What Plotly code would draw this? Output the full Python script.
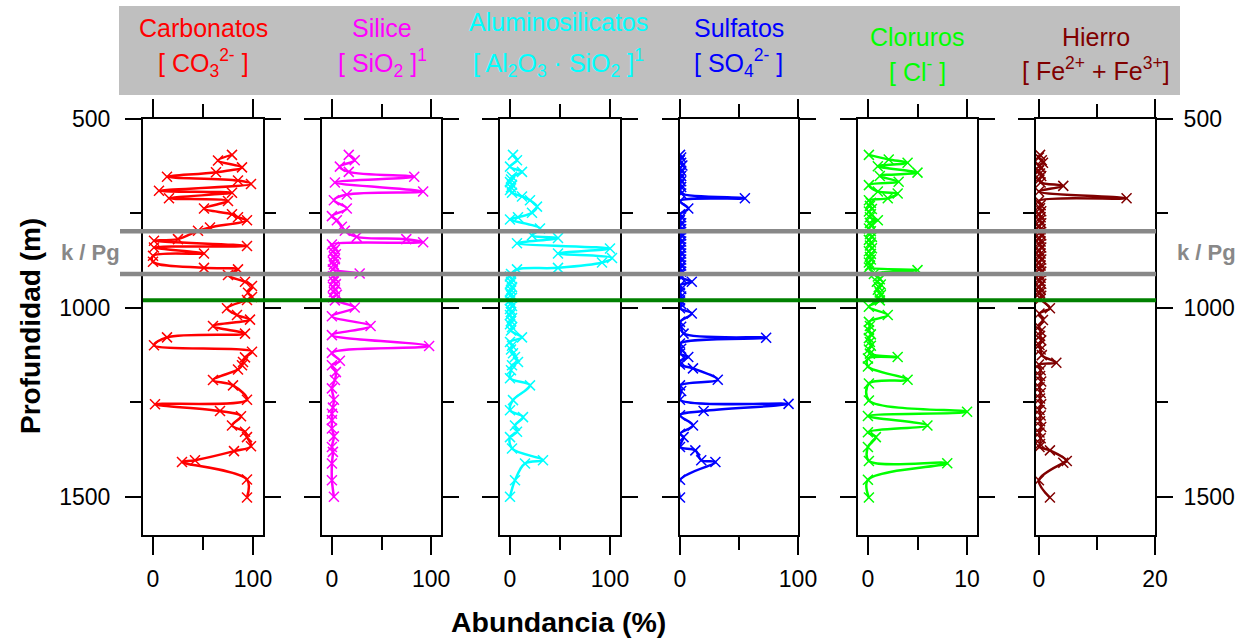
import plotly.graph_objects as go

W, H = 1247, 639

# ---------------- data ----------------
depth_carb = [595, 610, 628, 641, 653, 663, 672, 690, 695, 710, 717, 737, 752, 760, 768, 787, 796,
              818, 822, 836, 840, 856, 862, 878, 894, 898, 913, 931, 942, 960, 971, 979,
              1001, 1019, 1031, 1048, 1068, 1078, 1099, 1116, 1131, 1143, 1152, 1163, 1191, 1205,
              1243, 1255, 1273, 1287, 1311, 1328, 1342, 1366, 1379, 1403, 1408, 1454, 1502]
carbonatos = [79, 65, 89, 63, 14, 85, 98, 6, 79, 16, 75, 51, 79, 85, 94, 57, 45,
              25, 1, 94, 1, 51, 0, 0, 51, 85, 75, 92, 99, 95, 99, 94,
              74, 84, 97, 60, 92, 14, 1, 99, 92, 90, 89, 85, 60, 80,
              94, 2, 67, 88, 79, 92, 94, 98, 81, 42, 29, 94, 94]

depth_sil = [595, 609, 626, 640, 653, 668, 692, 700, 715, 737, 757, 768, 785, 796, 812, 818, 826,
             832, 838, 845, 851, 858, 864, 871, 878, 885, 891, 898, 909, 916, 923, 930, 937, 944,
             951, 958, 965, 972, 980, 999, 1022, 1048, 1072, 1101, 1119, 1140, 1152, 1170, 1191,
             1213, 1243, 1264, 1280, 1297, 1319, 1340, 1368, 1381, 1412, 1456, 1500]
silice = [17, 23, 8, 17, 83, 3, 92, 15, 2, 15, 0, 5, 10, 13, 25, 75, 92,
          0, 2, 3, 1, 4, 2, 3, 1, 2, 3, 1, 28, 1, 3, 2, 4, 1,
          3, 2, 5, 1, 3, 23, 0, 39, 0, 98, 0, 8, 0, 4, 3,
          0, 2, 1, 0, 0, 0, 2, 0, 1, 0, 0, 2]

depth_alu = [595, 609, 626, 640, 653, 660, 667, 674, 681, 688, 695, 705, 715, 732, 748, 760, 766,
             790, 808, 815, 829, 843, 856, 868, 880, 894, 898,
             910, 917, 924, 931, 938, 945, 952, 959, 966, 973, 980, 988, 995, 1003, 1011, 1019,
             1027, 1035, 1043, 1051, 1060, 1078, 1090, 1100, 1110, 1120, 1130, 1143, 1152, 1165,
             1186, 1205, 1244, 1271, 1289, 1311, 1328, 1342, 1372, 1403, 1412, 1456, 1500]
aluminosilicatos = [3, 7, 0, 12, 2, 1, 0, 2, 1, 0, 2, 12, 20, 27, 22, 8, 0,
                    30, 22, 48, 7, 100, 48, 102, 92, 48, 7,
                    1, 0, 2, 1, 0, 2, 1, 0, 1, 2, 0, 1, 2, 0, 1, 0,
                    2, 1, 0, 2, 1, 12, 0, 2, 1, 3, 5, 8, 2, 1,
                    0, 20, 3, 0, 13, 5, 7, 0, 2, 33, 15, 5, 0]

depth_sul = [595, 602, 609, 616, 623, 630, 637, 644, 651, 658, 665, 672, 680, 688, 697, 710, 717,
             737, 752, 760, 768, 776, 784, 792, 800, 808, 816, 824, 832, 840, 848, 856, 864, 872,
             880, 888, 896, 904, 912, 920, 931, 940, 950, 960, 970, 980, 990, 1001, 1015, 1037,
             1050, 1068, 1079, 1094, 1108, 1121, 1130, 1141, 1150, 1160, 1190, 1205, 1220, 1243,
             1254, 1273, 1284, 1311, 1333, 1342, 1368, 1377, 1403, 1408, 1455, 1502]
sulfatos = [0, 1, 0, 1, 2, 0, 1, 0, 1, 0, 1, 0, 1, 0, 1, 55, 0,
            7, 0, 1, 0, 1, 0, 1, 0, 1, 0, 1, 0, 1, 0, 1, 0, 1,
            0, 1, 0, 1, 0, 1, 10, 0, 1, 0, 1, 0, 1, 0, 10, 0,
            1, 3, 73, 0, 1, 0, 7, 0, 0, 11, 32, 0, 1, 0,
            92, 20, 0, 11, 0, 3, 0, 13, 18, 30, 0, 0]

depth_clo = [595, 607, 616, 625, 642, 651, 666, 675, 692, 697, 710, 715, 722, 730, 738, 745, 752,
             760, 768, 775, 782, 790, 797, 805, 812, 820, 827, 835, 842, 850, 857, 865, 872, 880,
             888, 893, 900, 910, 917, 924, 931, 938, 945, 952, 959, 966, 973, 980, 997, 1019,
             1037, 1048, 1059, 1070, 1080, 1090, 1100, 1110, 1121, 1130, 1134, 1155, 1190, 1200,
             1245, 1275, 1286, 1311, 1329, 1342, 1368, 1405, 1411, 1455, 1502]
cloruros = [0.1, 2.1, 4.0, 1.0, 5.0, 1.2, 3.1, 0.1, 1.0, 3.0, 2.0, 0.1, 0.3, 0.2, 0.4, 0.1, 0.3,
            0.2, 1.0, 0.2, 0.3, 0.1, 0.3, 0.2, 0.4, 0.1, 0.3, 0.2, 0.4, 0.1, 0.3, 0.2, 0.3, 0.1,
            0.2, 0.1, 5.0, 0.6, 1.0, 1.2, 0.9, 1.3, 1.1, 1.0, 1.2, 1.3, 1.1, 1.2, 0.1, 2.0,
            0.1, 0.2, 0.1, 0.3, 0.1, 0.2, 0.3, 0.1, 0.2, 3.0, 0.0, 0.0, 4.0, 0.1,
            0.1, 10.0, 0.0, 6.0, 0.0, 0.8, 0.0, 0.1, 8.0, 0.0, 0.1]

depth_fe = [595, 602, 609, 616, 623, 630, 637, 644, 651, 660, 668, 677, 692, 710, 717, 728, 736,
            744, 752, 760, 768, 776, 784, 792, 800, 808, 816, 824, 832, 840, 848, 856, 864, 872,
            880, 888, 896, 904, 912, 920, 928, 936, 944, 952, 960, 968, 976, 1001, 1015, 1032,
            1050, 1062, 1074, 1086, 1098, 1110, 1125, 1145, 1150, 1165, 1180, 1195, 1210, 1225,
            1240, 1255, 1270, 1285, 1300, 1315, 1330, 1345, 1360, 1368, 1377, 1405, 1410, 1456, 1502]
hierro = [0.2, 0.0, 0.5, 0.7, 0.1, 0.3, 0.0, 0.2, 0.4, 0.1, 0.3, 4.2, 0.0, 15.1, 0.0, 0.3, 0.2,
          0.4, 0.1, 0.3, 0.2, 0.4, 0.1, 0.3, 0.2, 0.4, 0.1, 0.3, 0.2, 0.4, 0.1, 0.3, 0.2, 0.4,
          0.1, 0.3, 0.2, 0.4, 0.1, 0.3, 0.2, 0.4, 0.1, 0.3, 0.2, 0.4, 0.3, 1.9, 0.1, 0.7,
          0.0, 0.3, 0.2, 0.4, 0.1, 0.3, 0.5, 3.0, 0.0, 0.3, 0.2, 0.4, 0.1, 0.3,
          0.2, 0.4, 0.1, 0.3, 0.2, 0.4, 0.1, 0.3, 0.2, 0.1, 1.9, 4.8, 4.2, 0.0, 1.9]

titles_1 = ["Carbonatos", "Silice", "Aluminosilicatos", "Sulfatos", "Cloruros", "Hierro"]
titles_2 = ["[ CO<sub>3</sub><sup>2-</sup> ]",
            "[ SiO<sub>2</sub> ]<sup>1</sup>",
            "[ Al<sub>2</sub>O<sub>3</sub> · SiO<sub>2</sub> ]<sup>1</sup>",
            "[ SO<sub>4</sub><sup>2-</sup> ]",
            "[ Cl<sup>-</sup> ]",
            "[ Fe<sup>2+</sup> + Fe<sup>3+</sup>]"]
colors = ["#FF0000", "#FF00FF", "#00FFFF", "#0000FF", "#00FF00", "#800000"]
depths = [depth_carb, depth_sil, depth_alu, depth_sul, depth_clo, depth_fe]
values = [carbonatos, silice, aluminosilicatos, sulfatos, cloruros, hierro]
x_ranges = [[-10, 110], [-10, 110], [-10, 110], [0, 100], [-1, 11], [-0.5, 20]]
x_major = [[0, 100], [0, 100], [0, 100], [0, 100], [0, 10], [0, 20]]
x_minor = [[50], [50], [50], [50], [5], [10]]
y_major = [500, 1000, 1500]
y_minor = [750, 1250]
depth_range = [1600, 500]
kpg_top, kpg_bottom, green_depth = 797, 910, 980

# ---------------- layout geometry (pixels) ----------------
panel_px = [(143, 263), (322, 441), (500, 620), (680, 798), (858, 977), (1036, 1155)]
y_top_px, y_bot_px = 119, 534.6
title1_y = [28, 28, 22, 28, 37, 37]
title2_y = [63, 63, 63, 63, 70, 69]
title_x = [203, 382, 558, 739, 917, 1096]

def px(x):
    return x / W

def py(y):
    return 1 - y / H

FONT = "Liberation Sans, Arial, sans-serif"
fig = go.Figure()
layout = dict(width=W, height=H, autosize=False,
              margin=dict(l=0, r=0, t=0, b=0, pad=0, autoexpand=False),
              paper_bgcolor="white", plot_bgcolor="white", showlegend=False,
              font=dict(family=FONT, color="black", size=22))

for i in range(6):
    n = i + 1
    xa = "x" if n == 1 else f"x{n}"
    ya = "y" if n == 1 else f"y{n}"
    c = colors[i]
    fig.add_trace(go.Scatter(
        x=values[i], y=depths[i], xaxis=xa, yaxis=ya, mode="lines+markers",
        line=dict(color=c, width=2.5, shape="spline", smoothing=1),
        marker=dict(symbol="x-thin", size=10, color=c, line=dict(color=c, width=1.5)),
        hoverinfo="skip"))
    key = "" if n == 1 else str(n)
    layout["xaxis" + key] = dict(
        domain=[px(panel_px[i][0]), px(panel_px[i][1])], anchor=ya, range=x_ranges[i],
        tickvals=x_major[i], ticks="outside", ticklen=18, tickwidth=2, tickcolor="black",
        showline=True, linewidth=2, linecolor="black", mirror="ticks", automargin=False,
        showgrid=False, zeroline=False, ticklabelstandoff=5,
        tickfont=dict(size=23, family=FONT),
        minor=dict(tickvals=x_minor[i], ticks="outside", ticklen=13, tickwidth=2,
                   tickcolor="black", showgrid=False))
    ydict = dict(
        domain=[py(y_bot_px), py(y_top_px)], anchor=xa, range=depth_range,
        tickvals=y_major, ticks="outside", ticklen=16, tickwidth=2, tickcolor="black",
        showline=True, linewidth=2, linecolor="black", mirror="ticks", automargin=False,
        showgrid=False, zeroline=False, showticklabels=(n in (1, 6)),
        tickfont=dict(size=23, family=FONT), ticklabelstandoff=10,
        minor=dict(tickvals=y_minor, ticks="outside", ticklen=11, tickwidth=2,
                   tickcolor="black", showgrid=False))
    if n == 6:
        ydict["side"] = "right"
        ydict["ticklabelstandoff"] = 6
    layout["yaxis" + key] = ydict

shapes = [
    dict(type="rect", xref="paper", yref="paper", x0=px(119), x1=px(1180), y0=py(95), y1=py(6),
         fillcolor="#BFBFBF", line=dict(width=0), layer="below"),
    dict(type="line", xref="paper", yref="y", x0=px(120), x1=px(1156), y0=kpg_top, y1=kpg_top,
         line=dict(color="#888888", width=4.5), layer="above"),
    dict(type="line", xref="paper", yref="y", x0=px(120), x1=px(1156), y0=kpg_bottom, y1=kpg_bottom,
         line=dict(color="#888888", width=4.5), layer="above"),
    dict(type="line", xref="paper", yref="y", x0=px(143), x1=px(1156), y0=green_depth, y1=green_depth,
         line=dict(color="#008000", width=4), layer="above"),
]

annotations = []
for i in range(6):
    annotations.append(dict(text=titles_1[i], xref="paper", yref="paper", x=px(title_x[i]),
                            y=py(title1_y[i]), xanchor="center", yanchor="middle", showarrow=False,
                            font=dict(size=25, color=colors[i], family=FONT)))
    annotations.append(dict(text=titles_2[i], xref="paper", yref="paper", x=px(title_x[i]),
                            y=py(title2_y[i]), xanchor="center", yanchor="middle", showarrow=False,
                            font=dict(size=25, color=colors[i], family=FONT)))
mid_kpg = (kpg_top + kpg_bottom) / 2
annotations += [
    dict(text="<b>k / Pg</b>", xref="paper", yref="y", x=px(90), y=mid_kpg, xanchor="center",
         yanchor="middle", showarrow=False, font=dict(size=22, color="#888888", family=FONT)),
    dict(text="<b>k / Pg</b>", xref="paper", yref="y", x=px(1206), y=mid_kpg, xanchor="center",
         yanchor="middle", showarrow=False, font=dict(size=22, color="#888888", family=FONT)),
    dict(text="<b>Profundidad (m)</b>", xref="paper", yref="paper", x=px(30), y=py(326),
         xanchor="center", yanchor="middle", textangle=-90, showarrow=False,
         font=dict(size=28, color="black", family=FONT)),
    dict(text="<b>Abundancia (%)</b>", xref="paper", yref="paper", x=px(558), y=py(622),
         xanchor="center", yanchor="middle", showarrow=False,
         font=dict(size=28.5, color="black", family=FONT)),
]
layout["shapes"] = shapes
layout["annotations"] = annotations
fig.update_layout(**layout)
fig.write_html("out.html")
